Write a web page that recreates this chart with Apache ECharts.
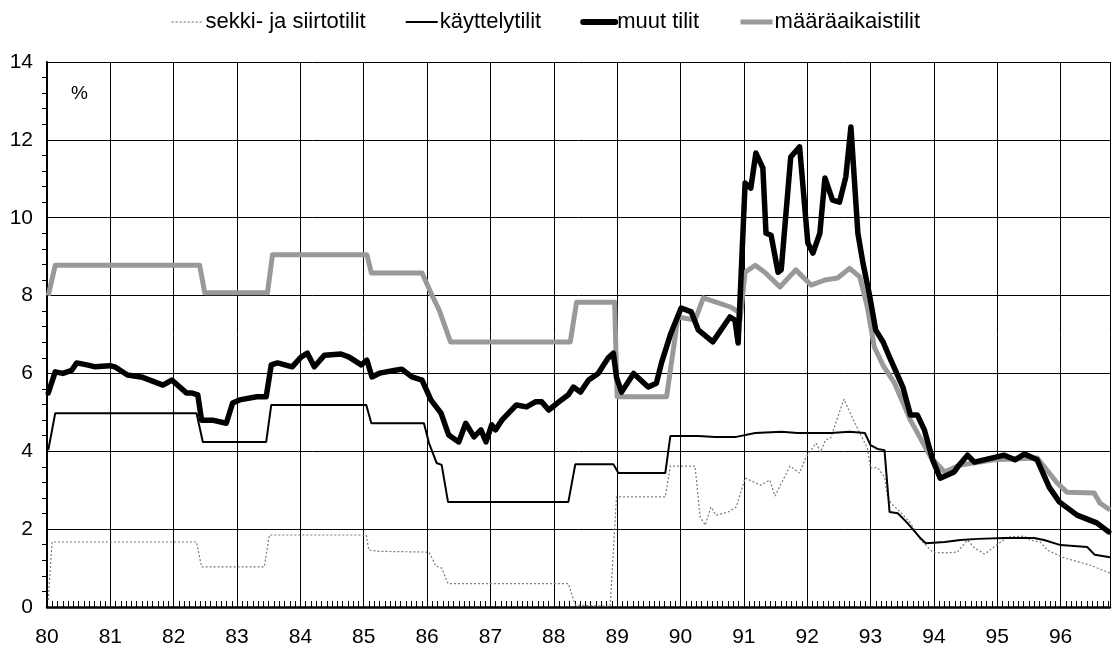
<!DOCTYPE html>
<html>
<head>
<meta charset="utf-8">
<script src="https://cdn.jsdelivr.net/npm/echarts@6/dist/echarts.min.js"></script>
<style>
html,body{margin:0;padding:0;background:#fff;}
#c{width:1113px;height:655px;}
</style>
</head>
<body>
<div id="c"></div>
<script>
// Years as decimal (80 = 1980); values in %
const yearTicks = ['80','81','82','83','84','85','86','87','88','89','90','91','92','93','94','95','96'];
const seriesNames = ['sekki- ja siirtotilit', 'käyttelytilit', 'muut tilit', 'määräaikaistilit'];

const sekkiData = [
  [80.02,0.18],[80.08,1.67],[82.36,1.67],[82.44,1.03],[83.43,1.03],[83.51,1.85],[85.04,1.85],
  [85.08,1.46],[85.24,1.43],[86.03,1.41],[86.14,1.05],[86.23,1.0],[86.33,0.6],[88.23,0.6],
  [88.34,0.05],[88.89,0.02],[88.99,2.83],[89.76,2.83],[89.84,3.62],[90.23,3.62],[90.31,2.31],
  [90.39,2.1],[90.48,2.57],[90.56,2.36],[90.75,2.44],[90.88,2.57],[91.02,3.31],[91.27,3.13],
  [91.41,3.26],[91.49,2.85],[91.73,3.62],[91.88,3.44],[91.98,3.85],[92.14,4.21],[92.21,3.98],
  [92.29,4.29],[92.37,4.34],[92.58,5.34],[92.75,4.73],[92.95,4.08],[93.0,3.57],[93.11,3.58],
  [93.22,3.34],[93.27,2.83],[93.32,2.67],[93.47,2.44],[93.63,2.16],[93.79,1.72],[93.98,1.41],
  [94.17,1.39],[94.37,1.41],[94.53,1.72],[94.64,1.52],[94.80,1.36],[94.95,1.54],[95.16,1.8],
  [95.43,1.82],[95.52,1.72],[95.68,1.67],[95.79,1.46],[96.06,1.26],[96.46,1.08],[96.78,0.87]
];

const kayttelyData = [
  [80.02,4.03],[80.13,4.98],[82.36,4.98],[82.46,4.24],[83.46,4.24],[83.54,5.19],[85.04,5.19],
  [85.12,4.72],[85.95,4.72],[86.03,4.21],[86.15,3.7],[86.23,3.65],[86.33,2.7],[88.23,2.7],
  [88.34,3.67],[88.94,3.67],[89.02,3.44],[89.76,3.44],[89.84,4.39],[90.28,4.39],[90.55,4.37],
  [90.88,4.37],[91.18,4.47],[91.59,4.5],[91.85,4.47],[92.37,4.47],[92.67,4.5],[92.91,4.47],
  [93.0,4.16],[93.11,4.06],[93.22,4.03],[93.30,2.44],[93.43,2.41],[93.58,2.16],[93.77,1.8],
  [93.87,1.64],[94.17,1.67],[94.42,1.72],[94.69,1.75],[95.11,1.77],[95.58,1.77],[95.74,1.72],
  [96.0,1.59],[96.42,1.54],[96.54,1.34],[96.78,1.28]
];

const muutData = [
  [80.02,5.5],[80.13,6.04],[80.25,6.0],[80.39,6.08],[80.47,6.27],[80.63,6.22],[80.76,6.17],
  [80.99,6.2],[81.07,6.17],[81.27,5.96],[81.51,5.9],[81.83,5.7],[81.97,5.83],[82.20,5.5],
  [82.28,5.5],[82.38,5.45],[82.44,4.8],[82.61,4.8],[82.83,4.72],[82.93,5.24],[83.04,5.32],
  [83.31,5.4],[83.46,5.4],[83.54,6.22],[83.64,6.27],[83.87,6.17],[84.01,6.42],[84.11,6.52],
  [84.22,6.17],[84.38,6.47],[84.64,6.5],[84.77,6.42],[84.96,6.22],[85.05,6.34],[85.13,5.91],
  [85.24,6.0],[85.29,6.02],[85.50,6.08],[85.60,6.11],[85.76,5.91],[85.92,5.83],[86.06,5.32],
  [86.22,4.98],[86.34,4.42],[86.50,4.24],[86.61,4.72],[86.74,4.37],[86.85,4.55],[86.93,4.24],
  [87.02,4.68],[87.08,4.55],[87.18,4.8],[87.41,5.19],[87.57,5.14],[87.71,5.27],[87.81,5.27],
  [87.92,5.06],[88.12,5.32],[88.23,5.45],[88.31,5.65],[88.42,5.52],[88.55,5.83],[88.70,6.0],
  [88.86,6.4],[88.94,6.52],[88.99,5.9],[89.07,5.52],[89.26,6.0],[89.49,5.65],[89.62,5.75],
  [89.70,6.27],[89.85,7.04],[90.01,7.68],[90.17,7.58],[90.28,7.12],[90.51,6.81],[90.78,7.45],
  [90.86,7.37],[90.91,6.78],[91.02,10.89],[91.11,10.76],[91.19,11.66],[91.30,11.28],[91.35,9.6],
  [91.43,9.55],[91.54,8.6],[91.59,8.66],[91.74,11.56],[91.88,11.82],[92.01,9.35],[92.09,9.09],
  [92.20,9.6],[92.28,11.02],[92.40,10.45],[92.51,10.4],[92.61,11.05],[92.69,12.33],[92.80,9.6],
  [92.88,8.84],[92.99,7.96],[93.08,7.12],[93.20,6.8],[93.30,6.42],[93.51,5.65],[93.63,4.93],
  [93.74,4.93],[93.85,4.55],[93.98,3.78],[94.10,3.31],[94.32,3.47],[94.40,3.65],[94.53,3.9],
  [94.64,3.72],[95.11,3.9],[95.28,3.78],[95.43,3.93],[95.63,3.78],[95.82,3.08],[95.98,2.7],
  [96.26,2.36],[96.57,2.16],[96.76,1.93]
];

const maaraData = [
  [80.02,8.0],[80.13,8.78],[82.41,8.78],[82.49,8.07],[83.48,8.07],[83.56,9.05],[85.05,9.05],
  [85.12,8.58],[85.92,8.58],[86.06,8.07],[86.19,7.63],[86.37,6.81],[88.26,6.81],[88.36,7.83],
  [88.96,7.83],[89.0,5.4],[89.78,5.4],[89.96,7.45],[90.23,7.37],[90.36,7.94],[90.80,7.7],
  [90.91,7.58],[90.94,7.37],[91.02,8.6],[91.18,8.78],[91.33,8.6],[91.57,8.22],[91.82,8.66],
  [92.06,8.27],[92.28,8.4],[92.48,8.45],[92.67,8.7],[92.83,8.48],[92.95,7.7],[93.06,6.68],
  [93.20,6.2],[93.38,5.75],[93.63,4.8],[93.95,3.85],[94.17,3.47],[94.42,3.65],[94.95,3.78],
  [95.63,3.83],[95.95,3.18],[96.10,2.95],[96.53,2.93],[96.62,2.67],[96.78,2.49]
];

const chart = echarts.init(document.getElementById('c'), null, {renderer:'canvas'});
const FONT = '"Liberation Sans", Arial, Helvetica, sans-serif';

chart.setOption({
  backgroundColor: '#ffffff',
  animation: false,
  textStyle: {fontFamily: FONT, color: '#000'},
  legend: {
    left: 166, top: 6,
    itemWidth: 32, itemHeight: 12, itemGap: 39,
    itemStyle: {opacity: 0},
    textStyle: {fontFamily: FONT, fontSize: 22, color: '#000', padding: [0,0,0,-3]},
    data: [
      {name: seriesNames[0], lineStyle: {width: 1.2}},
      {name: seriesNames[1], lineStyle: {width: 2}},
      {name: seriesNames[2], lineStyle: {width: 6}},
      {name: seriesNames[3], lineStyle: {width: 5}}
    ]
  },
  grid: {left: 47, right: 0, top: 62, bottom: 48, containLabel: false},
  graphic: [{
    type: 'text', left: 71, top: 84,
    style: {text: '%', font: '19px ' + FONT, fill: '#000'}
  }],
  xAxis: {
    type: 'value', min: 80, max: 96.78, interval: 1,
    axisLine: {show: true, onZero: false, lineStyle: {color: '#000', width: 2.5}},
    axisTick: {show: true, inside: true, length: 6, lineStyle: {color: '#000', width: 1}},
    minorTick: {show: true, splitNumber: 12, length: 6, lineStyle: {color: '#000', width: 1}},
    axisLabel: {
      fontSize: 21, color: '#000', margin: 20, fontFamily: FONT,
      formatter: function (v) { const s = String(Math.round(v)); return yearTicks.indexOf(s) >= 0 ? s : ''; }
    },
    splitLine: {show: true, lineStyle: {color: '#000', width: 1}}
  },
  yAxis: {
    type: 'value', min: 0, max: 14, interval: 2,
    axisLine: {show: true, lineStyle: {color: '#000', width: 2}},
    axisTick: {show: false},
    minorTick: {show: true, splitNumber: 5, length: 5, lineStyle: {color: '#000', width: 1}},
    axisLabel: {fontSize: 21, color: '#000', margin: 14, fontFamily: FONT},
    splitLine: {show: true, lineStyle: {color: '#000', width: 1}}
  },
  series: [
    {
      name: seriesNames[0], type: 'line', data: sekkiData, symbol: 'none', z: 3,
      lineStyle: {color: '#7a7a7a', width: 1.2, type: [2, 2]},
      itemStyle: {color: '#7a7a7a'}
    },
    {
      name: seriesNames[1], type: 'line', data: kayttelyData, symbol: 'none', z: 4,
      lineStyle: {color: '#000', width: 2},
      itemStyle: {color: '#000'}
    },
    {
      name: seriesNames[2], type: 'line', data: muutData, symbol: 'none', z: 5,
      lineStyle: {color: '#000', width: 5.5, join: 'round', cap: 'round'},
      itemStyle: {color: '#000'}
    },
    {
      name: seriesNames[3], type: 'line', data: maaraData, symbol: 'none', z: 4,
      lineStyle: {color: '#999999', width: 5, join: 'round'},
      itemStyle: {color: '#999999'}
    }
  ]
});
</script>
</body>
</html>
